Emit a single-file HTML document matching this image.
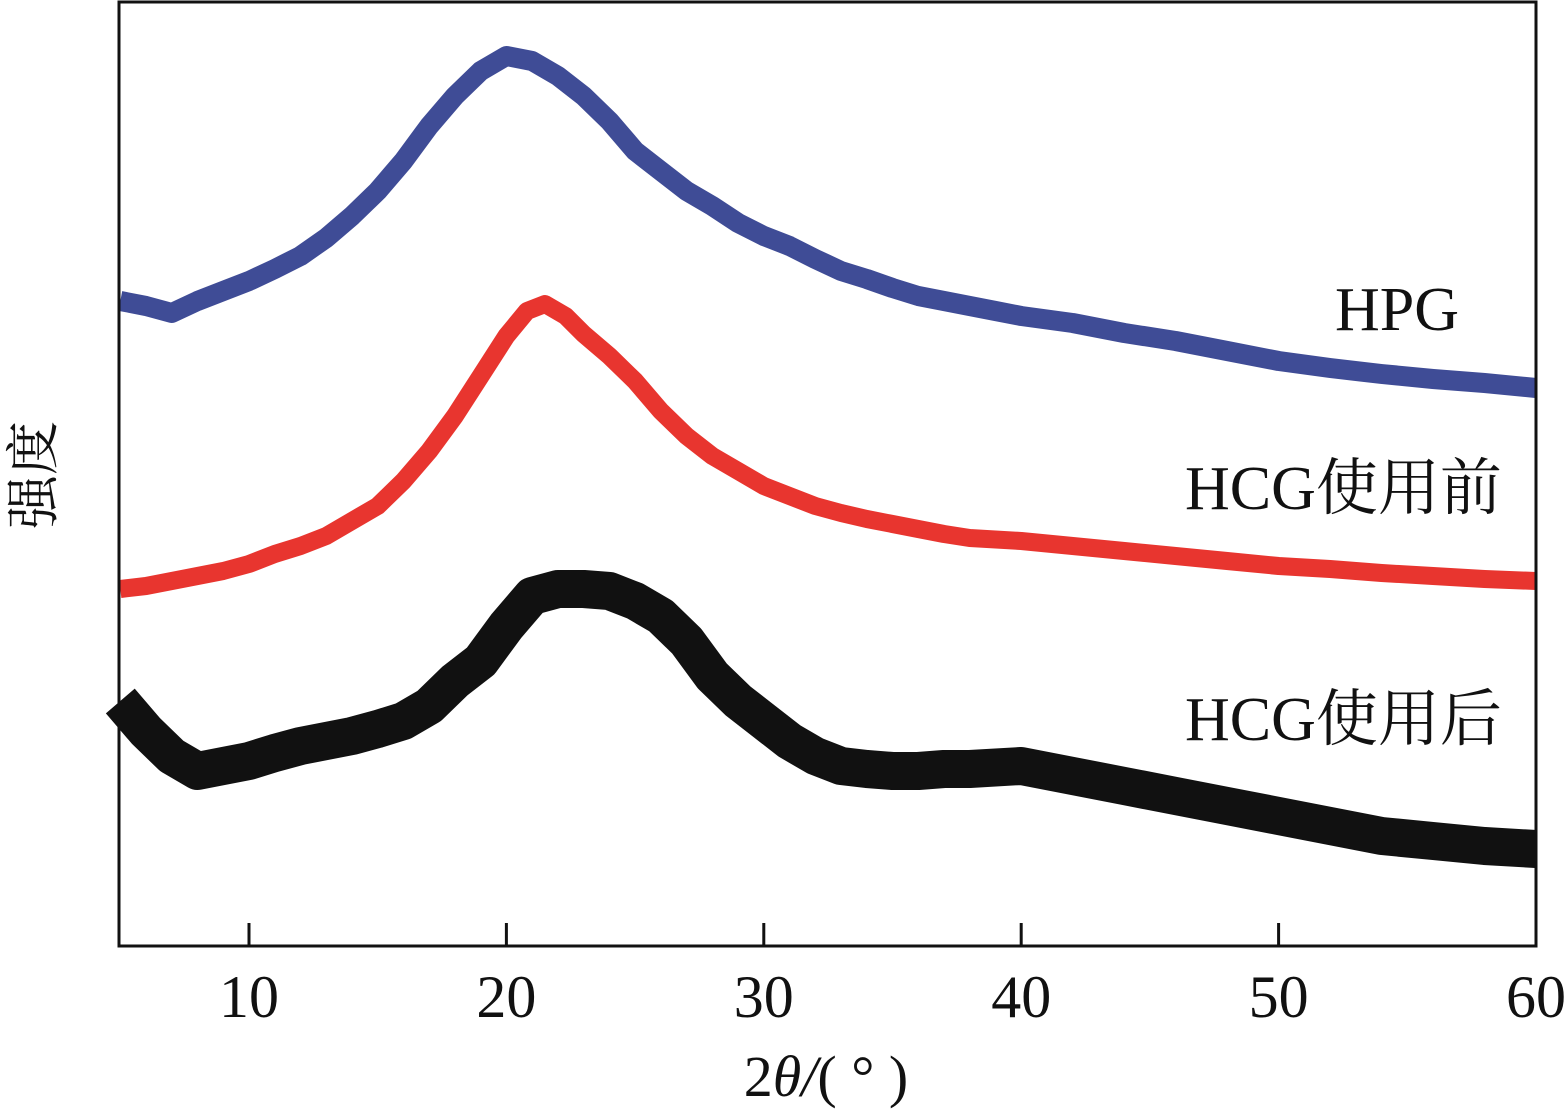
<!DOCTYPE html>
<html><head><meta charset="utf-8"><style>
html,body{margin:0;padding:0;background:#fff;}
svg{display:block;}
text{font-family:"Liberation Serif","Noto Serif CJK SC",serif;fill:#111;}
</style></head><body>
<svg id="chart" width="1567" height="1119" viewBox="0 0 1567 1119" xmlns="http://www.w3.org/2000/svg">
<g id="series"></g>
<rect x="119" y="2" width="1417" height="944" fill="none" stroke="#111" stroke-width="3"/>
<g id="ticks"></g>
<text x="1335" y="330" font-size="62">HPG</text>
<text x="1185" y="509" font-size="62">HCG使用前</text>
<text x="1185" y="740" font-size="62">HCG使用后</text>
<text x="826" y="1096" font-size="58" text-anchor="middle">2<tspan font-style="italic">θ/</tspan>( ° )</text>
<text transform="translate(52,475) rotate(-90)" font-size="54" text-anchor="middle">强度</text>
</svg>
<script>
const xTicks=[10,20,30,40,50,60];
const bx=[5,6,7,8,9,10,11,12,13,14,15,16,17,18,19,20,21,22,23,24,25,26,27,28,29,30,31,32,33,34,35,36,37,38,39,40,42,44,46,48,50,52,54,56,58,60];
const blue=[645,640,633,645,655,665,677,690,708,730,755,785,820,850,875,890,885,870,850,825,795,775,755,740,723,710,700,687,675,667,658,650,645,640,635,630,623,613,605,595,585,578,572,567,563,558];
const rx=[5,6,7,8,9,10,11,12,13,14,15,16,17,18,19,20,20.8,21.5,22.3,23,24,25,26,27,28,29,30,31,32,33,34,35,36,37,38,40,42,44,46,48,50,52,54,56,58,60];
const red=[357,360,365,370,375,382,392,400,410,425,440,465,495,530,570,610,635,642,630,612,590,565,535,510,490,475,460,450,440,433,427,422,417,412,408,405,400,395,390,385,380,377,373,370,367,365];
const kx=[5,6,7,8,9,10,11,12,13,14,15,16,17,18,19,20,21,22,23,24,25,26,27,28,29,30,31,32,33,34,35,36,37,38,40,42,44,46,48,50,52,54,56,58,60];
const black=[245,215,190,175,180,185,193,200,205,210,217,225,240,265,285,320,350,357,357,355,345,330,305,270,245,225,205,190,180,177,175,175,177,177,180,170,160,150,140,130,120,110,105,100,97];
const X0=4.95,X1=60,PL=119,PR=1536,PB=946,PT=2;
function sx(v){return PL+(v-X0)/(X1-X0)*(PR-PL);}
function sy(v){return PB-v/944*(PB-PT);}
const NS="http://www.w3.org/2000/svg";
const g=document.getElementById('series');
function draw(xs,ys,color,w,name){
  const p=document.createElementNS(NS,'polyline');
  p.setAttribute('points',xs.map((x,i)=>sx(x).toFixed(1)+','+sy(ys[i]).toFixed(1)).join(' '));
  p.setAttribute('fill','none');p.setAttribute('stroke',color);
  p.setAttribute('stroke-width',w);p.setAttribute('stroke-linejoin','round');
  
  
  g.appendChild(p);
}
draw(bx,blue,'#3f4c96',20,'series-hpg');
draw(rx,red,'#e8352f',18,'series-hcg-before');
draw(kx,black,'#111',38,'series-hcg-after');
const t=document.getElementById('ticks');
xTicks.forEach(v=>{
  const x=sx(v);
  if(v<60){const l=document.createElementNS(NS,'line');
  l.setAttribute('x1',x);l.setAttribute('x2',x);l.setAttribute('y1',PB);l.setAttribute('y2',PB-23);
  l.setAttribute('stroke','#111');l.setAttribute('stroke-width',3);
  
  
  t.appendChild(l);}
  const tx=document.createElementNS(NS,'text');
  tx.setAttribute('x',x);tx.setAttribute('y',1017);tx.setAttribute('font-size','60');
  tx.setAttribute('text-anchor','middle');tx.textContent=v;
  
  
  t.appendChild(tx);
});
</script>
</body></html>
